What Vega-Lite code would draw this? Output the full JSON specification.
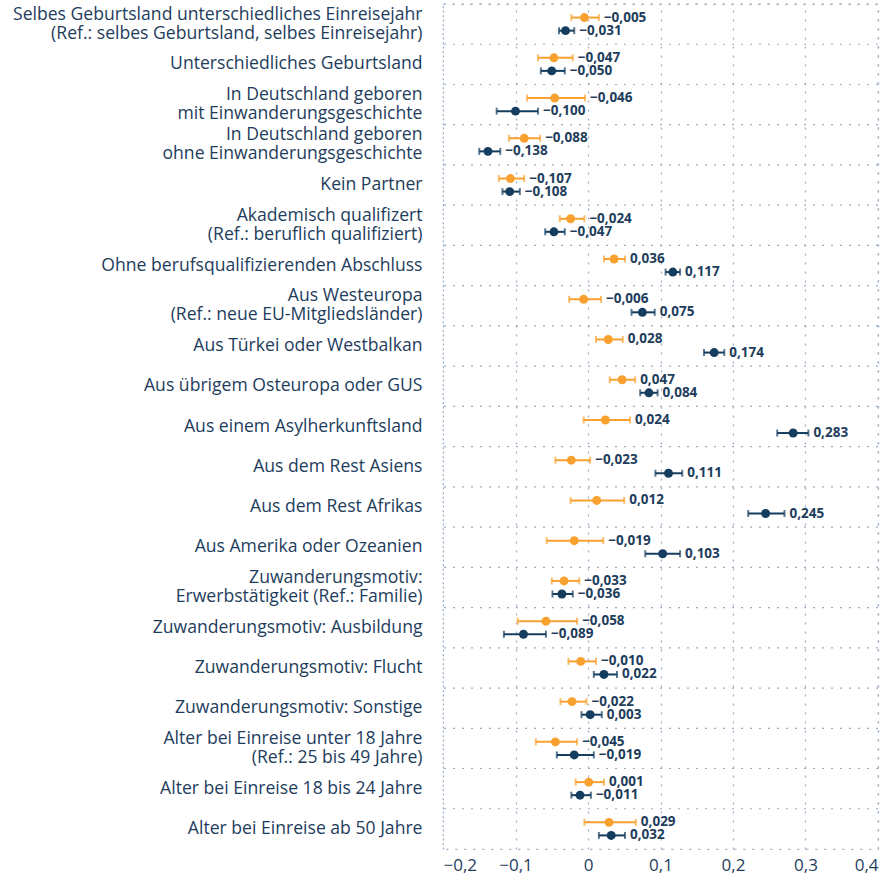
{
  "$schema": "https://vega.github.io/schema/vega-lite/v6.json",
  "width": 435,
  "height": 845,
  "padding": {"left": 0, "top": 3, "right": 15, "bottom": 5},
  "config": {
    "font": "Open Sans",
    "locale": {"number": {"decimal": ",", "thousands": ".", "grouping": [3], "currency": ["", " €"], "minus": "\u2212"}},
    "view": {"stroke": "#98adc4", "strokeDash": [2, 7], "strokeWidth": 1.2}
  },
  "data": {"values": [
    {"k": "Selbes Geburtsland unterschiedliches Einreisejahr\n(Ref.: selbes Geburtsland, selbes Einreisejahr)", "s": "a", "v": -0.005, "lo": -0.023, "hi": 0.015},
    {"k": "Selbes Geburtsland unterschiedliches Einreisejahr\n(Ref.: selbes Geburtsland, selbes Einreisejahr)", "s": "b", "v": -0.031, "lo": -0.040, "hi": -0.019},
    {"k": "Unterschiedliches Geburtsland", "s": "a", "v": -0.047, "lo": -0.069, "hi": -0.021},
    {"k": "Unterschiedliches Geburtsland", "s": "b", "v": -0.050, "lo": -0.065, "hi": -0.032},
    {"k": "In Deutschland geboren\nmit Einwanderungsgeschichte", "s": "a", "v": -0.046, "lo": -0.084, "hi": -0.004},
    {"k": "In Deutschland geboren\nmit Einwanderungsgeschichte", "s": "b", "v": -0.100, "lo": -0.126, "hi": -0.069},
    {"k": "In Deutschland geboren\nohne Einwanderungsgeschichte", "s": "a", "v": -0.088, "lo": -0.109, "hi": -0.066},
    {"k": "In Deutschland geboren\nohne Einwanderungsgeschichte", "s": "b", "v": -0.138, "lo": -0.150, "hi": -0.121},
    {"k": "Kein Partner", "s": "a", "v": -0.107, "lo": -0.123, "hi": -0.088},
    {"k": "Kein Partner", "s": "b", "v": -0.108, "lo": -0.118, "hi": -0.094},
    {"k": "Akademisch qualifizert\n(Ref.: beruflich qualifiziert)", "s": "a", "v": -0.024, "lo": -0.039, "hi": -0.005},
    {"k": "Akademisch qualifizert\n(Ref.: beruflich qualifiziert)", "s": "b", "v": -0.047, "lo": -0.059, "hi": -0.032},
    {"k": "Ohne berufsqualifizierenden Abschluss", "s": "a", "v": 0.036, "lo": 0.022, "hi": 0.051},
    {"k": "Ohne berufsqualifizierenden Abschluss", "s": "b", "v": 0.117, "lo": 0.107, "hi": 0.127},
    {"k": "Aus Westeuropa\n(Ref.: neue EU-Mitgliedsländer)", "s": "a", "v": -0.006, "lo": -0.026, "hi": 0.018},
    {"k": "Aus Westeuropa\n(Ref.: neue EU-Mitgliedsländer)", "s": "b", "v": 0.075, "lo": 0.060, "hi": 0.092},
    {"k": "Aus Türkei oder Westbalkan", "s": "a", "v": 0.028, "lo": 0.011, "hi": 0.048},
    {"k": "Aus Türkei oder Westbalkan", "s": "b", "v": 0.174, "lo": 0.160, "hi": 0.188},
    {"k": "Aus übrigem Osteuropa oder GUS", "s": "a", "v": 0.047, "lo": 0.030, "hi": 0.065},
    {"k": "Aus übrigem Osteuropa oder GUS", "s": "b", "v": 0.084, "lo": 0.072, "hi": 0.096},
    {"k": "Aus einem Asylherkunftsland", "s": "a", "v": 0.024, "lo": -0.006, "hi": 0.058},
    {"k": "Aus einem Asylherkunftsland", "s": "b", "v": 0.283, "lo": 0.261, "hi": 0.304},
    {"k": "Aus dem Rest Asiens", "s": "a", "v": -0.023, "lo": -0.045, "hi": 0.003},
    {"k": "Aus dem Rest Asiens", "s": "b", "v": 0.111, "lo": 0.093, "hi": 0.130},
    {"k": "Aus dem Rest Afrikas", "s": "a", "v": 0.012, "lo": -0.024, "hi": 0.050},
    {"k": "Aus dem Rest Afrikas", "s": "b", "v": 0.245, "lo": 0.221, "hi": 0.271},
    {"k": "Aus Amerika oder Ozeanien", "s": "a", "v": -0.019, "lo": -0.057, "hi": 0.021},
    {"k": "Aus Amerika oder Ozeanien", "s": "b", "v": 0.103, "lo": 0.079, "hi": 0.127},
    {"k": "Zuwanderungsmotiv:\nErwerbstätigkeit (Ref.: Familie)", "s": "a", "v": -0.033, "lo": -0.050, "hi": -0.012},
    {"k": "Zuwanderungsmotiv:\nErwerbstätigkeit (Ref.: Familie)", "s": "b", "v": -0.036, "lo": -0.049, "hi": -0.021},
    {"k": "Zuwanderungsmotiv: Ausbildung", "s": "a", "v": -0.058, "lo": -0.097, "hi": -0.015},
    {"k": "Zuwanderungsmotiv: Ausbildung", "s": "b", "v": -0.089, "lo": -0.116, "hi": -0.058},
    {"k": "Zuwanderungsmotiv: Flucht", "s": "a", "v": -0.010, "lo": -0.027, "hi": 0.011},
    {"k": "Zuwanderungsmotiv: Flucht", "s": "b", "v": 0.022, "lo": 0.008, "hi": 0.040},
    {"k": "Zuwanderungsmotiv: Sonstige", "s": "a", "v": -0.022, "lo": -0.038, "hi": -0.002},
    {"k": "Zuwanderungsmotiv: Sonstige", "s": "b", "v": 0.003, "lo": -0.009, "hi": 0.019},
    {"k": "Alter bei Einreise unter 18 Jahre\n(Ref.: 25 bis 49 Jahre)", "s": "a", "v": -0.045, "lo": -0.072, "hi": -0.015},
    {"k": "Alter bei Einreise unter 18 Jahre\n(Ref.: 25 bis 49 Jahre)", "s": "b", "v": -0.019, "lo": -0.043, "hi": 0.008},
    {"k": "Alter bei Einreise 18 bis 24 Jahre", "s": "a", "v": 0.001, "lo": -0.017, "hi": 0.022},
    {"k": "Alter bei Einreise 18 bis 24 Jahre", "s": "b", "v": -0.011, "lo": -0.023, "hi": 0.004},
    {"k": "Alter bei Einreise ab 50 Jahre", "s": "a", "v": 0.029, "lo": -0.005, "hi": 0.066},
    {"k": "Alter bei Einreise ab 50 Jahre", "s": "b", "v": 0.032, "lo": 0.015, "hi": 0.051}
  ]},
  "encoding": {
    "y": {
      "field": "k", "type": "nominal", "sort": null, "title": null,
      "scale": {"paddingInner": 0, "paddingOuter": 0},
      "axis": {
        "domain": false, "ticks": false, "grid": false,
        "labelExpr": "split(datum.value, '\\n')",
        "labelOffset": {"condition": {"test": "indexof(datum.value, '\\n') >= 0", "value": -9.5}, "value": 0},
        "labelFontSize": 17.6, "labelColor": "#1e3d5c", "labelLineHeight": 19,
        "labelPadding": 21, "labelLimit": 600, "minExtent": 443, "maxExtent": 443
      }
    }
  },
  "layer": [
    {
      "transform": [{"filter": "datum.s == 'a'"}],
      "mark": {"type": "rule", "color": "#98adc4", "strokeDash": [2, 7], "strokeWidth": 1.2},
      "encoding": {"y": {"field": "k", "type": "nominal", "sort": null, "bandPosition": 0}}
    },
    {
      "mark": {"type": "rule", "color": "#34506e", "strokeWidth": 1.2},
      "encoding": {"x": {"datum": 0, "type": "quantitative"}}
    },
    {
      "mark": {"type": "rule", "strokeWidth": 2},
      "encoding": {
        "x": {
          "field": "lo", "type": "quantitative", "title": null,
          "scale": {"domain": [-0.2, 0.4], "nice": false, "zero": false},
          "axis": {
            "values": [-0.2, -0.1, 0, 0.1, 0.2, 0.3, 0.4], "format": "~g",
            "domain": false, "ticks": false, "grid": true,
            "gridColor": "#98adc4", "gridDash": [2, 7], "gridWidth": 1.2,
            "labelFontSize": 17, "labelColor": "#1e3d5c", "labelPadding": 8
          }
        },
        "x2": {"field": "hi"},
        "yOffset": {"field": "s", "type": "nominal", "scale": {"paddingOuter": 0.54}},
        "color": {"field": "s", "type": "nominal", "scale": {"domain": ["a", "b"], "range": ["#f9a12f", "#153d5f"]}, "legend": null}
      }
    },
    {
      "mark": {"type": "tick", "thickness": 2, "size": 7},
      "encoding": {
        "x": {"field": "lo", "type": "quantitative"},
        "yOffset": {"field": "s", "type": "nominal", "scale": {"paddingOuter": 0.54}},
        "color": {"field": "s", "type": "nominal", "legend": null}
      }
    },
    {
      "mark": {"type": "tick", "thickness": 2, "size": 7},
      "encoding": {
        "x": {"field": "hi", "type": "quantitative"},
        "yOffset": {"field": "s", "type": "nominal", "scale": {"paddingOuter": 0.54}},
        "color": {"field": "s", "type": "nominal", "legend": null}
      }
    },
    {
      "mark": {"type": "circle", "size": 80, "opacity": 1},
      "encoding": {
        "x": {"field": "v", "type": "quantitative"},
        "yOffset": {"field": "s", "type": "nominal", "scale": {"paddingOuter": 0.54}},
        "color": {"field": "s", "type": "nominal", "legend": null}
      }
    },
    {
      "mark": {"type": "text", "align": "left", "baseline": "middle", "dx": 5, "fontSize": 13.5, "fontWeight": "bold", "color": "#1e3d5c"},
      "encoding": {
        "x": {"field": "hi", "type": "quantitative"},
        "yOffset": {"field": "s", "type": "nominal", "scale": {"paddingOuter": 0.54}},
        "text": {"field": "v", "type": "quantitative", "format": ".3f"}
      }
    }
  ]
}
